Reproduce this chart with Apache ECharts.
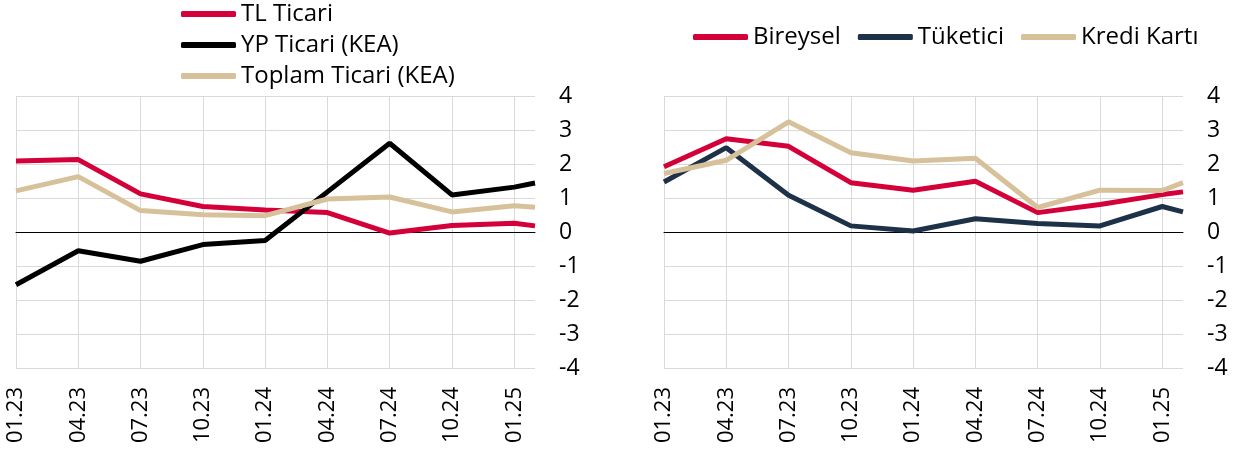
<!DOCTYPE html>
<html>
<head>
<meta charset="utf-8">
<script src="https://cdn.jsdelivr.net/npm/echarts@6/dist/echarts.min.js"></script>
<style>
  html, body { margin: 0; padding: 0; background: #fff; }
  #chart { width: 1238px; height: 453px; }
</style>
</head>
<body>
<div id="chart"></div>
<script>
// aylık kategori ekseni (etiketler 3 ayda bir)
var months = ['01.23','02.23','03.23','04.23','05.23','06.23','07.23','08.23','09.23','10.23','11.23','12.23',
              '01.24','02.24','03.24','04.24','05.24','06.24','07.24','08.24','09.24','10.24','11.24','12.24',
              '01.25','02.25'];
// gözlem noktaları
var obsMonths = ['01.23','04.23','07.23','10.23','01.24','04.24','07.24','10.24','01.25','02.25'];

// sol panel - ticari
var tlTicari     = [2.09, 2.13, 1.12, 0.75, 0.65, 0.57, -0.03, 0.19, 0.26, 0.18];
var ypTicari     = [-1.55, -0.55, -0.86, -0.37, -0.25, 1.18, 2.61, 1.09, 1.32, 1.44];
var toplamTicari = [1.21, 1.63, 0.63, 0.51, 0.48, 0.97, 1.03, 0.59, 0.77, 0.73];

// sağ panel - bireysel
var bireysel   = [1.92, 2.74, 2.52, 1.45, 1.23, 1.49, 0.57, 0.81, 1.10, 1.18];
var tuketici   = [1.47, 2.48, 1.08, 0.18, 0.03, 0.39, 0.25, 0.18, 0.75, 0.59];
var krediKarti = [1.72, 2.11, 3.24, 2.33, 2.09, 2.17, 0.72, 1.23, 1.22, 1.45];

var yMin = -4, yMax = 4;

var RED = '#D4003A', BLACK = '#000000', TAN = '#D7C19B', NAVY = '#1D3248';
var FONT = 'Open Sans';

function pairs(vals) {
  return obsMonths.map(function (m, i) { return [m, vals[i]]; });
}

function xAxisOf(idx) {
  return {
    type: 'category',
    gridIndex: idx,
    data: months,
    boundaryGap: false,
    axisLine: { onZero: true, lineStyle: { color: '#000', width: 1 } },
    axisTick: { show: false },
    axisLabel: {
      interval: 2, rotate: 90, margin: 19,
      fontFamily: FONT, fontSize: 22, color: '#000'
    },
    splitLine: { show: true, interval: 2, lineStyle: { color: '#d9d9d9', width: 1 } }
  };
}

function yAxisOf(idx) {
  return {
    type: 'value',
    gridIndex: idx,
    position: 'right',
    min: yMin, max: yMax, interval: 1,
    axisLine: { show: false },
    axisTick: { show: false },
    axisLabel: { margin: 24, align: 'left', fontFamily: FONT, fontSize: 23, color: '#000' },
    splitLine: { show: true, lineStyle: { color: '#d9d9d9', width: 1 } }
  };
}

function lineSeries(name, vals, color, idx) {
  return {
    name: name,
    type: 'line',
    xAxisIndex: idx, yAxisIndex: idx,
    data: pairs(vals),
    symbol: 'none',
    lineStyle: { color: color, width: 5 },
    itemStyle: { color: color },
    z: 3
  };
}

var myChart = echarts.init(document.getElementById('chart'));
var option = {
  animation: false,
  backgroundColor: '#fff',
  textStyle: { fontFamily: FONT },
  legend: [{
    orient: 'vertical',
    left: 181, top: 2, padding: 0,
    icon: 'roundRect',
    itemWidth: 55, itemHeight: 6, itemGap: 7,
    textStyle: { fontFamily: FONT, fontSize: 24, color: '#000', lineHeight: 24 },
    data: ['TL Ticari', 'YP Ticari (KEA)', 'Toplam Ticari (KEA)']
  }, {
    orient: 'horizontal',
    left: 693, top: 25, padding: 0,
    icon: 'roundRect',
    itemWidth: 55, itemHeight: 6, itemGap: 17,
    textStyle: { fontFamily: FONT, fontSize: 24, color: '#000', lineHeight: 24 },
    data: ['Bireysel', 'Tüketici', 'Kredi Kartı']
  }],
  grid: [
    { left: 16, top: 96, width: 519, height: 272 },
    { left: 664, top: 96, width: 519, height: 272 }
  ],
  xAxis: [xAxisOf(0), xAxisOf(1)],
  yAxis: [yAxisOf(0), yAxisOf(1)],
  series: [
    lineSeries('TL Ticari', tlTicari, RED, 0),
    lineSeries('YP Ticari (KEA)', ypTicari, BLACK, 0),
    lineSeries('Toplam Ticari (KEA)', toplamTicari, TAN, 0),
    lineSeries('Bireysel', bireysel, RED, 1),
    lineSeries('Tüketici', tuketici, NAVY, 1),
    lineSeries('Kredi Kartı', krediKarti, TAN, 1)
  ]
};
myChart.setOption(option);
</script>
</body>
</html>
